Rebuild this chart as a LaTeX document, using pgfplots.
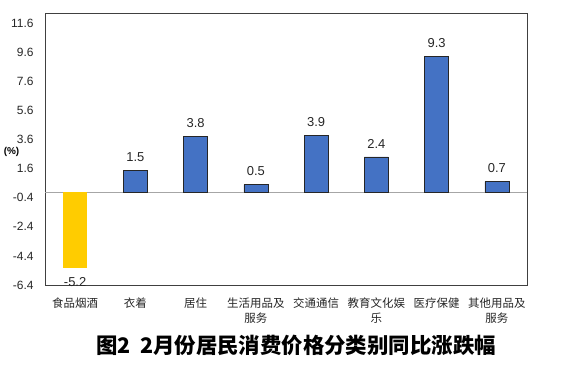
\documentclass[border=0pt]{standalone}
\usepackage{pgfplots}
\pgfplotsset{compat=1.18}
\usepackage{fontspec}
\setmainfont{Liberation Sans}
\newfontfamily\cjk{Noto Sans CJK SC}
\definecolor{barblue}{HTML}{4472C4}
\definecolor{baryel}{HTML}{FFCC00}
\begin{document}
\begin{tikzpicture}[x=1bp,y=1bp]
\path[use as bounding box] (0,0) rectangle (573,373);
\begin{axis}[
  at={(45bp,88bp)}, anchor=south west,
  scale only axis, width=482bp, height=272bp,
  xmin=-0.5, xmax=7.5, ymin=-6.4, ymax=12.3,
  ytick={-6.4,-4.4,-2.4,-0.4,1.6,3.6,5.6,7.6,9.6,11.6},
  yticklabels={-6.4,-4.4,-2.4,-0.4,1.6,3.6,5.6,7.6,9.6,11.6},
  yticklabel style={font=\fontsize{12}{14}\selectfont, color=black!85, anchor=east, xshift=-8bp},
  xtick={0,...,7},
  xticklabels={食品烟酒,衣着,居住,{生活用品及\\服务},交通通信,{教育文化娱\\乐},医疗保健,{其他用品及\\服务}},
  xticklabel style={font=\cjk\fontsize{11.5}{15}\selectfont, color=black!85, align=center, anchor=north, yshift=-9bp, text depth=0pt},
  major tick length=0pt,
  axis line style={draw=black!75, line width=0.7bp},
  extra y ticks={0}, extra y tick labels={},
  extra y tick style={grid=major, grid style={draw=black!35, line width=0.8bp}},
  ybar, bar width=24bp, bar shift=0pt,
  nodes near coords,
  every node near coord/.append style={font=\fontsize{13}{15}\selectfont, color=black!85},
  /pgf/number format/.cd, fixed, fixed zerofill, precision=1, assume math mode=true,
]
\addplot[fill=baryel, draw=none,
  every node near coord/.append style={anchor=north, yshift=-6bp}]
  coordinates {(0,-5.2)};
\addplot[fill=barblue, draw=black!85, line width=0.7bp,
  every node near coord/.append style={anchor=south, yshift=5bp}]
  coordinates {(1,1.5) (2,3.8) (3,0.5) (4,3.9) (5,2.4) (6,9.3) (7,0.7)};
\end{axis}
\node[font=\fontsize{10}{11}\selectfont\bfseries] at (11.5,221) {(\%)};
\node[font=\cjk\bfseries\fontsize{21.5}{24}\selectfont] at (296,28) {图2\hspace{0.45em}2月份居民消费价格分类别同比涨跌幅};
\end{tikzpicture}
\end{document}
